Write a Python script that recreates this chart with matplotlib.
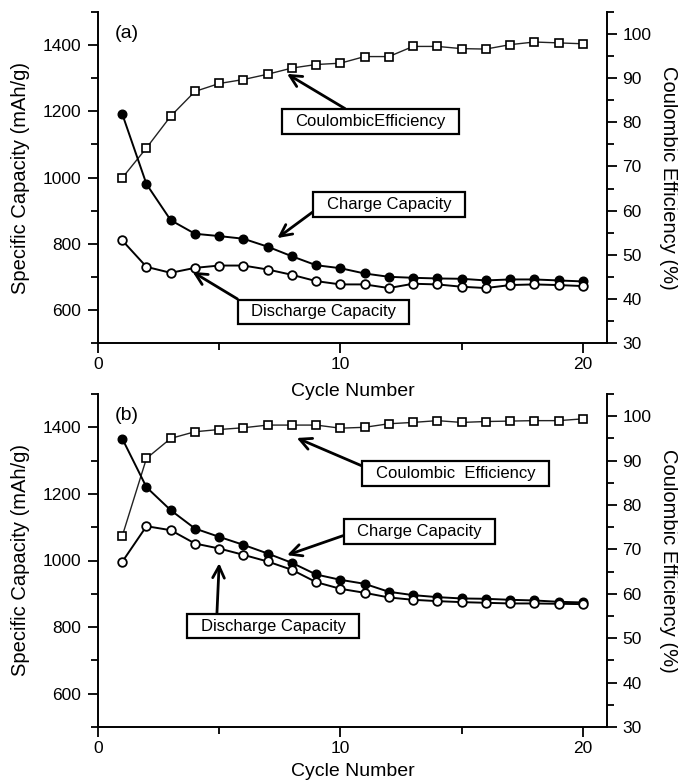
import matplotlib
matplotlib.use("Agg")
import matplotlib.pyplot as plt
from matplotlib.ticker import MultipleLocator
from matplotlib.path import Path

plt.rcParams['font.family'] = ['Liberation Sans', 'DejaVu Sans']

cycles = list(range(1, 21))

# Panel (a)
charge_a = [1192, 980, 871, 830, 823, 815, 791, 762, 735, 726,
            710, 700, 697, 695, 694, 689, 692, 692, 689, 686]
discharge_a = [810, 730, 712, 727, 734, 734, 722, 706, 687, 677,
               677, 666, 679, 677, 670, 666, 675, 677, 675, 672]
ce_a = [67.4, 74.2, 81.4, 87.0, 88.8, 89.7, 90.9, 92.3, 93.1, 93.4,
        94.9, 94.9, 97.2, 97.2, 96.7, 96.6, 97.6, 98.2, 98.0, 97.8]

# Panel (b)
charge_b = [1366, 1220, 1151, 1096, 1071, 1047, 1021, 993, 958, 942,
            930, 906, 896, 890, 886, 885, 882, 880, 876, 874]
discharge_b = [996, 1103, 1091, 1051, 1036, 1017, 997, 972, 935, 915,
               903, 889, 882, 878, 875, 873, 871, 871, 870, 869]
ce_b = [73.0, 90.5, 95.0, 96.5, 97.0, 97.4, 98.0, 98.0, 98.0, 97.3,
        97.5, 98.3, 98.6, 99.0, 98.6, 98.8, 98.9, 99.0, 99.0, 99.4]

panel_labels = ["(a)", "(b)"]
x_label = "Cycle Number"
y_left_label = "Specific Capacity (mAh/g)"
y_right_label = "Coulombic Efficiency (%)"

W, H = 678, 782
fig = plt.figure(figsize=(W / 100, H / 100), dpi=100)


def px_axes(left, top, right, bottom):
    return fig.add_axes([left / W, 1 - bottom / H, (right - left) / W, (bottom - top) / H])


def wide_box(x0, y0, width, height, mutation_size):
    px = 0.8 * mutation_size
    py = 0.28 * mutation_size
    verts = [(x0 - px, y0 - py), (x0 + width + px, y0 - py),
             (x0 + width + px, y0 + height + py), (x0 - px, y0 + height + py),
             (x0 - px, y0 - py)]
    return Path(verts, closed=True)


def style_axes(ax, ax2, xlabelpad):
    ax.set_xlim(0, 21)
    ax.set_ylim(500, 1500)
    ax2.set_ylim(30, 105)
    for a in (ax, ax2):
        a.spines['top'].set_visible(False)
        for s in ('left', 'right', 'bottom'):
            a.spines[s].set_linewidth(1.4)
    ax.spines['right'].set_visible(False)
    ax2.spines['left'].set_visible(False)
    ax2.spines['bottom'].set_visible(False)
    ax.xaxis.set_major_locator(MultipleLocator(10))
    ax.xaxis.set_minor_locator(MultipleLocator(5))
    ax.yaxis.set_major_locator(MultipleLocator(200))
    ax.yaxis.set_minor_locator(MultipleLocator(100))
    ax2.yaxis.set_major_locator(MultipleLocator(10))
    ax2.yaxis.set_minor_locator(MultipleLocator(5))
    ax.tick_params(axis='both', which='major', direction='out', length=7, width=1.3,
                   labelsize=12.5)
    ax.tick_params(axis='both', which='minor', direction='out', length=5, width=1.3)
    ax.tick_params(axis='x', which='major', pad=3)
    ax.tick_params(axis='y', which='major', pad=5)
    ax.tick_params(axis='x', top=False)
    ax.tick_params(axis='y', right=False)
    ax2.tick_params(axis='y', which='major', direction='out', length=7, width=1.3,
                    labelsize=12.5, pad=4)
    ax2.tick_params(axis='y', which='minor', direction='out', length=5, width=1.3)
    ax.set_xlabel(x_label, fontsize=14, labelpad=xlabelpad)
    ax.set_ylabel(y_left_label, fontsize=14.5, labelpad=9)
    ax2.set_ylabel(y_right_label, fontsize=14.5, rotation=-90, labelpad=19)


def box_annot(ax, text, tip, center, relpos):
    ax.annotate(text, xy=tip, xytext=center, ha='center', va='center', fontsize=12,
                bbox=dict(boxstyle=wide_box, fc='white', ec='black', lw=1.6),
                arrowprops=dict(arrowstyle='->,head_length=0.7,head_width=0.35',
                                lw=2.0, color='black', relpos=relpos,
                                shrinkA=0, shrinkB=0),
                zorder=10)


datasets = [
    (charge_a, discharge_a, ce_a, (98, 12, 607, 343), 8,
     [("CoulombicEfficiency", (7.8, 1313), (11.25, 1169), (0.39, 1.0)),
      ("Charge Capacity", (7.4, 817), (12.0, 918), (0.0, 0.69)),
      ("Discharge Capacity", (3.9, 715), (9.3, 594), (0.0, 0.82))]),
    (charge_b, discharge_b, ce_b, (98, 394, 607, 727), 5,
     [("Coulombic  Efficiency", (8.2, 1368), (14.75, 1261), (0.0, 0.62)),
      ("Charge Capacity", (7.8, 1016), (13.26, 1087), (0.0, 0.55)),
      ("Discharge Capacity", (5.0, 992), (7.23, 803), (0.11, 1.0))]),
]

for i, (chg, dis, ce, box, xlp, annots) in enumerate(datasets):
    ax = px_axes(*box)
    ax2 = ax.twinx()
    style_axes(ax, ax2, xlp)
    ax2.plot(cycles, ce, '-', color='#222222', lw=1.0, marker='s', ms=5.2,
             mfc='white', mec='black', mew=1.2, zorder=3)
    ax.plot(cycles, chg, '-', color='black', lw=1.4, marker='o', ms=6.2,
            mfc='black', mec='black', zorder=3)
    ax.plot(cycles, dis, '-', color='black', lw=1.4, marker='o', ms=6.2,
            mfc='white', mec='black', mew=1.3, zorder=3)
    ax.set_zorder(ax2.get_zorder() + 1)
    ax.patch.set_visible(False)
    ax.text(1.17, 1434, panel_labels[i], fontsize=14, ha='center', va='center')
    for text, tip, center, relpos in annots:
        box_annot(ax, text, tip, center, relpos)

fig.savefig("out.png", dpi=100)
